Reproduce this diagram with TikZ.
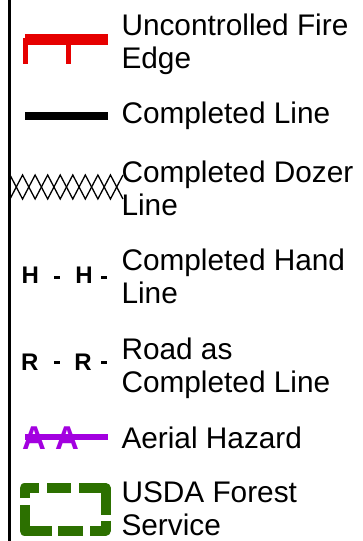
\documentclass[tikz,border=0pt]{standalone}
\usepackage{fontspec}
\setmainfont{Liberation Sans}
\definecolor{fire}{RGB}{230,0,0}
\definecolor{hazard}{RGB}{163,0,224}
\definecolor{usda}{RGB}{44,112,0}
\begin{document}
\begin{tikzpicture}[x=1pt,y=-1pt,
  lbl/.style={anchor=base west,inner sep=0pt,outer sep=0pt,font=\fontsize{29.8}{33.3}\selectfont},
  code/.style={anchor=base west,inner sep=0pt,outer sep=0pt,font=\fontsize{24}{28}\selectfont\bfseries},
  hz/.style={anchor=base west,inner sep=0pt,outer sep=0pt,text=hazard,font=\fontsize{33}{38}\selectfont\bfseries},
  tick/.style={fill=black},
  usdaline/.style={draw=usda,line width=10pt,line join=round,line cap=butt}]
\useasboundingbox (0,0) rectangle (363,541);
% left rule
\draw[line width=3pt] (9,0) -- (9,541);
% labels
\node[lbl] (t1a) at (121.5,35) {Uncontrolled Fire};
\node[lbl] (t1b) at (121.5,68.3) {Edge};
\node[lbl] (t2) at (121.5,123) {Completed Line};
\node[lbl] (t3a) at (121.5,182) {Completed Dozer};
\node[lbl] (t3b) at (121.5,215.3) {Line};
\node[lbl] (t4a) at (121.5,270) {Completed Hand};
\node[lbl] (t4b) at (121.5,303.3) {Line};
\node[lbl] (t5a) at (121.5,359.4) {Road as};
\node[lbl] (t5b) at (121.5,392.7) {Completed Line};
\node[lbl] (t6) at (121.5,448) {Aerial Hazard};
\node[lbl] (t7a) at (121.5,502) {USDA Forest};
\node[lbl] (t7b) at (121.5,535.3) {Service};
% uncontrolled fire edge
\fill[fire] (25,34) rectangle (108,45);
\fill[fire] (23.3,38) rectangle (28.3,64.3);
\fill[fire] (66,38) rectangle (71,64.3);
% completed line
\fill[black] (25,112) rectangle (108,120);
% dozer line
\draw[line width=1.3pt,line join=miter] (10,199) \foreach \i in {1,...,9} {-- ({10+12.556*\i},{199-24*mod(\i,2)})};
\draw[line width=1.3pt,line join=miter] (10,175) \foreach \i in {1,...,9} {-- ({10+12.556*\i},{175+24*mod(\i,2)})};
% hand line
\node[code] (h1) at (21.5,283) {H};
\node[code] (h2) at (75.3,283) {H};
\fill[tick] (54,276) rectangle (60,279);
\fill[tick] (100.7,276) rectangle (106.7,279);
% road
\node[code] (r1) at (21,370) {R};
\node[code] (r2) at (74.3,370) {R};
\fill[tick] (54,361) rectangle (60,364.3);
\fill[tick] (100.7,361) rectangle (106.7,364.3);
% aerial hazard
\node[hz] (a1) at (22,449) {A};
\node[hz] (a2) at (55,449) {A};
\fill[hazard] (25,434.2) rectangle (108,439.5);
% USDA forest service
\draw[usdaline] (24.5,498) -- (24.5,488) -- (39,488);
\draw[usdaline] (47,488) -- (71,488);
\draw[usdaline] (79,488) -- (105.5,488) -- (105.5,515);
\draw[usdaline] (105.5,520.5) -- (105.5,530.5) -- (90,530.5);
\draw[usdaline] (83,530.5) -- (58,530.5);
\draw[usdaline] (51.7,530.5) -- (24.5,530.5) -- (24.5,505);
\end{tikzpicture}
\end{document}
